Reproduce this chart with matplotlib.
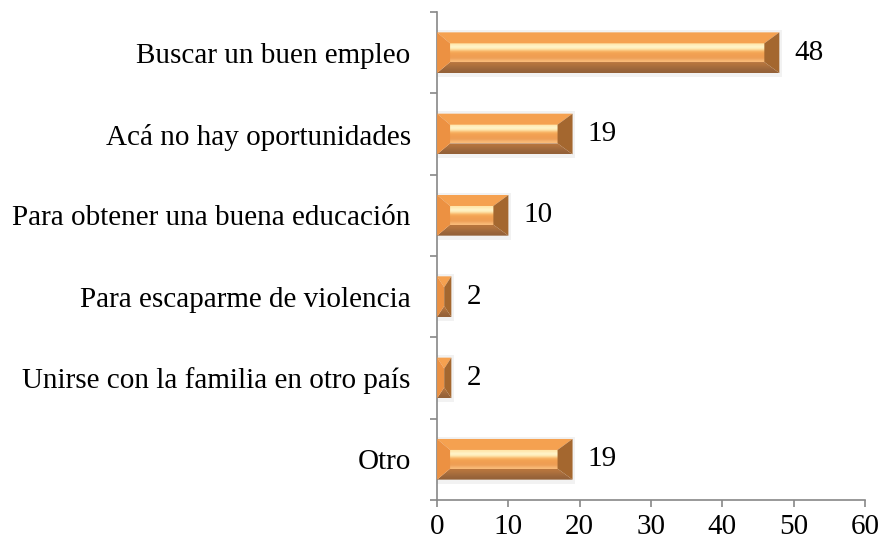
import matplotlib.pyplot as plt
import numpy as np
from matplotlib.patches import Polygon, Rectangle

# datos
categorias = ["Buscar un buen empleo", "Acá no hay oportunidades",
              "Para obtener una buena educación", "Para escaparme de violencia",
              "Unirse con la familia en otro país", "Otro"]
valores = [48, 19, 10, 2, 2, 19]

plt.rcParams['font.family'] = ['Liberation Serif', 'DejaVu Serif']

fig = plt.figure(figsize=(8.83, 5.47), dpi=100)
ax = fig.add_axes([0.495, 0.086, 0.4845, 0.892])

n = len(categorias)
ax.set_xlim(0, 60)
ax.set_ylim(n - 0.5, -0.5)

# tamaño de un pixel en unidades de datos
px_x = 60 / (0.4845 * 883)
alto = 0.5
bisel_y = alto * 0.27

# degradado vertical de la cara frontal (de arriba hacia abajo)
grad = np.array([
    [1.00, 0.90, 0.66],
    [1.00, 0.97, 0.82],
    [1.00, 0.92, 0.70],
    [0.97, 0.68, 0.36],
    [0.95, 0.63, 0.32],
    [0.94, 0.62, 0.32],
    [0.93, 0.62, 0.34],
    [0.98, 0.74, 0.48],
])[:, None, :]

# degradado del bisel inferior
grad_inf = np.array([
    [0.72, 0.46, 0.24],
    [0.64, 0.42, 0.24],
    [0.58, 0.38, 0.22],
])[:, None, :]


def barra_bisel(ax, y, w):
    y0 = y - alto / 2
    y1 = y + alto / 2
    bx = min(13 * px_x, w / 2)
    bx2 = min(15 * px_x, w / 2)
    # sombra suave
    ax.add_patch(Rectangle((0, y0 - 0.03), w + 0.35, alto + 0.08, fc='#000000',
                           alpha=0.05, ec='none', zorder=1))
    # cara frontal
    ax.imshow(grad, extent=(bx, w - bx2, y1 - bisel_y, y0 + bisel_y),
              aspect='auto', interpolation='bicubic', zorder=2)
    # bisel superior
    ax.add_patch(Polygon([(0, y0), (w, y0), (w - bx2, y0 + bisel_y), (bx, y0 + bisel_y)],
                         closed=True, fc='#F5A150', ec='none', zorder=3))
    # bisel inferior
    im = ax.imshow(grad_inf, extent=(0, w, y1, y1 - bisel_y),
                   aspect='auto', interpolation='bicubic', zorder=3)
    im.set_clip_path(Polygon([(0, y1), (w, y1), (w - bx2, y1 - bisel_y), (bx, y1 - bisel_y)],
                             closed=True, transform=ax.transData))
    # bisel izquierdo
    ax.add_patch(Polygon([(0, y0), (bx, y0 + bisel_y), (bx, y1 - bisel_y), (0, y1)],
                         closed=True, fc='#EC9142', ec='none', zorder=3))
    # bisel derecho
    ax.add_patch(Polygon([(w, y0), (w - bx2, y0 + bisel_y), (w - bx2, y1 - bisel_y), (w, y1)],
                         closed=True, fc='#A4672F', ec='none', zorder=3))


for i, v in enumerate(valores):
    barra_bisel(ax, i, v)
    ax.text(v + 2.1, i, str(v), va='center', ha='left', fontsize=21, zorder=4)

ax.set_xlim(0, 60)
ax.set_ylim(n - 0.5, -0.5)

ax.set_yticks(range(n))
ax.set_yticklabels(categorias, fontsize=21)
ax.set_yticks(np.arange(-0.5, n, 1), minor=True)
ax.tick_params(axis='y', which='major', length=0, pad=19)
ax.tick_params(axis='y', which='minor', length=5, color='#888888', width=1.2)

ax.set_xticks(range(0, 61, 10))
ax.tick_params(axis='x', labelsize=21, length=5, color='#888888', width=1.2, pad=5)

for s in ['top', 'right']:
    ax.spines[s].set_visible(False)
for s in ['left', 'bottom']:
    ax.spines[s].set_color('#888888')
    ax.spines[s].set_linewidth(1.2)

fig.savefig('out.png', dpi=100)
